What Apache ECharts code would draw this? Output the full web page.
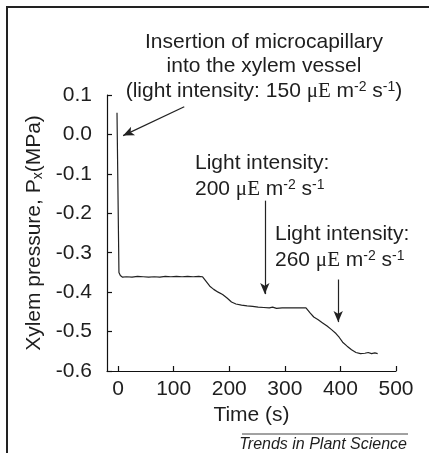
<!DOCTYPE html>
<html>
<head>
<meta charset="utf-8">
<script src="https://cdn.jsdelivr.net/npm/echarts@6/dist/echarts.min.js"></script>
<style>
html,body{margin:0;padding:0;background:#fff;}
#chart{width:429px;height:453px;}
</style>
</head>
<body>
<div id="chart"></div>
<script>
// Time (s)
const timeValues = [-2, 1.5, 4, 8, 15, 25, 35, 45, 55, 65, 75, 85, 95, 105, 115, 125, 135, 145, 152,
  158, 165, 172, 180, 188, 196, 204, 212, 222, 232, 242, 252, 262, 272, 278, 285, 295, 305, 315, 325, 338,
  345, 352, 360, 368, 376, 384, 392, 398, 404, 412, 420, 428, 436, 444, 450, 456, 462, 467];
// Xylem pressure (MPa)
const pressureValues = [0.055, -0.35, -0.358, -0.362, -0.361, -0.362, -0.360, -0.361, -0.362, -0.361, -0.362, -0.360, -0.361, -0.360, -0.361, -0.360, -0.361, -0.360, -0.361,
  -0.372, -0.385, -0.393, -0.400, -0.406, -0.415, -0.425, -0.430, -0.433, -0.435, -0.436, -0.438, -0.439, -0.440, -0.438, -0.441, -0.440, -0.440, -0.440, -0.440, -0.440,
  -0.452, -0.463, -0.470, -0.478, -0.486, -0.495, -0.505, -0.515, -0.527, -0.537, -0.546, -0.553, -0.556, -0.555, -0.553, -0.556, -0.554, -0.556];
const xTicks = [0, 100, 200, 300, 400, 500];
const yTicks = [-0.6, -0.5, -0.4, -0.3, -0.2, -0.1, 0.0, 0.1];
const yTickLabels = ['-0.6', '-0.5', '-0.4', '-0.3', '-0.2', '-0.1', '0.0', '0.1'];
// arrows: [fromTime, fromP, toTime, toP]
const arrow1 = [119, 0.07, 9, -0.003];
const arrow2 = [264, -0.168, 264, -0.405];
const arrow3 = [396, -0.368, 396, -0.476];

const FONT = 'Liberation Sans, Arial, sans-serif';
const FS = 21;
const INK = '#1e1e1e';
const rich = {
  mu: {fontFamily: 'Liberation Serif, Times New Roman, serif', fontSize: FS, fill: INK, color: INK, lineHeight: 22},
  sup: {fontFamily: FONT, fontSize: 14, fill: INK, color: INK, verticalAlign: 'top', lineHeight: 14}
};
function txt(text, x, y, align) {
  return {
    type: 'text', silent: true,
    style: {
      text: text, x: x, y: y,
      fontFamily: FONT, fontSize: FS, lineHeight: 22,
      fill: INK,
      textAlign: align, align: align,
      textVerticalAlign: 'middle', verticalAlign: 'middle',
      rich: rich
    }
  };
}

const chart = echarts.init(document.getElementById('chart'));
chart.setOption({
  animation: false,
  backgroundColor: '#fff',
  grid: {left: 107, right: 33, top: 95, bottom: 82, containLabel: false},
  xAxis: {
    type: 'value', min: -20, max: 500,
    name: 'Time (s)', nameLocation: 'middle', nameGap: 29,
    nameTextStyle: {fontFamily: FONT, fontSize: FS, color: INK},
    axisLine: {onZero: false, lineStyle: {color: '#111', width: 1.2}},
    axisTick: {inside: true, length: 5, customValues: xTicks, lineStyle: {color: '#111', width: 1.2}},
    axisLabel: {customValues: xTicks, fontFamily: FONT, fontSize: FS, color: INK, margin: 8},
    splitLine: {show: false}
  },
  yAxis: {
    type: 'value', min: -0.6, max: 0.1,
    name: '{a|Xylem pressure, P}{b|x}{a|(MPa)}', nameLocation: 'middle', nameGap: 57,
    nameTextStyle: {
      fontFamily: FONT, fontSize: FS, color: INK,
      rich: {
        a: {fontFamily: FONT, fontSize: FS, color: INK, lineHeight: 22},
        b: {fontFamily: FONT, fontSize: 14, color: INK, verticalAlign: 'bottom', lineHeight: 14}
      }
    },
    axisLine: {onZero: false, lineStyle: {color: '#111', width: 1.2}},
    axisTick: {inside: true, length: 5, customValues: yTicks, lineStyle: {color: '#111', width: 1.2}},
    axisLabel: {
      customValues: yTicks, fontFamily: FONT, fontSize: FS, color: INK, margin: 15,
      formatter: function (v) {
        const i = yTicks.findIndex(t => Math.abs(t - v) < 1e-6);
        return i >= 0 ? yTickLabels[i] : '';
      }
    },
    splitLine: {show: false}
  },
  series: [{
    type: 'line',
    data: timeValues.map((t, i) => [t, pressureValues[i]]),
    showSymbol: false, symbol: 'none',
    lineStyle: {color: '#222', width: 1.2},
    silent: true,
    markLine: {
      silent: true,
      symbol: ['none', 'arrow'],
      symbolSize: [7, 11],
      label: {show: false},
      lineStyle: {color: '#222', width: 1.2, type: 'solid'},
      data: [arrow1, arrow2, arrow3].map(a => [{coord: [a[0], a[1]]}, {coord: [a[2], a[3]]}])
    }
  }],
  graphic: [
    {type: 'polyline', silent: true, shape: {points: [[7, 453], [7, 7], [429, 7]]}, style: {stroke: '#222', lineWidth: 2, fill: null}},
    txt('Insertion of microcapillary', 264, 42, 'center'),
    txt('into the xylem vessel', 264, 66, 'center'),
    txt('(light intensity: 150 {mu|μE} m{sup|-2} s{sup|-1})', 264, 91, 'center'),
    txt('Light intensity:', 195, 163, 'left'),
    txt('200 {mu|μE} m{sup|-2} s{sup|-1}', 195, 189, 'left'),
    txt('Light intensity:', 275, 234, 'left'),
    txt('260 {mu|μE} m{sup|-2} s{sup|-1}', 275, 260, 'left'),
    {type: 'line', silent: true, shape: {x1: 242, y1: 434, x2: 408, y2: 434}, style: {stroke: '#444', lineWidth: 1}},
    {type: 'text', silent: true, style: {text: 'Trends in Plant Science', x: 407, y: 445, fontFamily: FONT, fontSize: 16, fontStyle: 'italic', fill: INK, textAlign: 'right', align: 'right', textVerticalAlign: 'middle', verticalAlign: 'middle'}}
  ]
});
</script>
</body>
</html>
